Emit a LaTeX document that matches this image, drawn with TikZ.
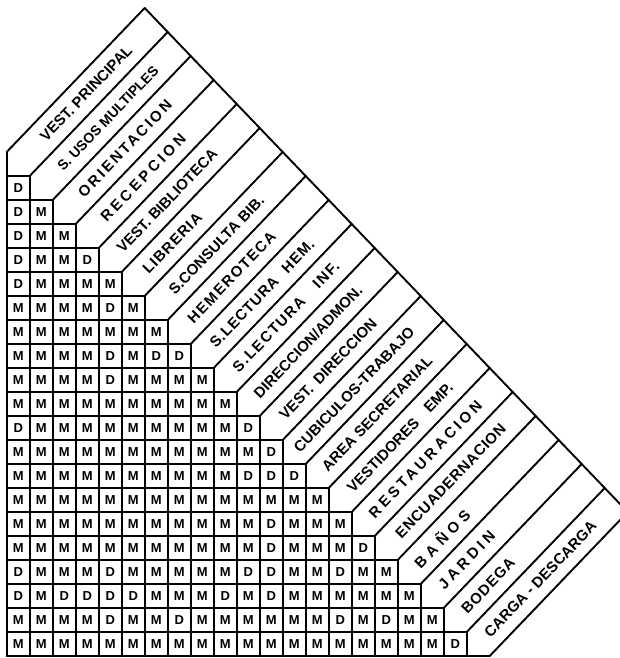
\documentclass[tikz,border=0pt]{standalone}
\usepackage{fontspec}
\setmainfont{Liberation Sans}
\newcommand\spaced[2]{{\addfontfeature{LetterSpace=#1}#2}}
\begin{document}
\begin{tikzpicture}[x=1pt,y=-1pt,line cap=round,line join=round,
  rule/.style={line width=1.9pt,black},
  cell/.style={font=\fontsize{13}{13}\selectfont\bfseries,inner sep=0pt},
  lbl/.style={font=\fontsize{15}{15}\selectfont\bfseries,inner sep=0pt,rotate=46.2}]
\useasboundingbox (0,0) rectangle (620,658);
\clip (0,0) rectangle (620,658);
\def\xo{6.7}\def\yo{176}\def\cw{23}\def\rh{24}
% left edge
\draw[rule] (\xo,{\yo-\rh}) -- (\xo,{\yo+20*\rh});
% horizontal lines (top of each row, bottom line)
\foreach \i in {1,...,21}
  \draw[rule] (\xo,{\yo+(\i-1)*\rh}) -- ({\xo+\i*\cw},{\yo+(\i-1)*\rh});
% vertical column lines
\foreach \j in {1,...,20}
  \draw[rule] ({\xo+\j*\cw},{\yo+(\j-1)*\rh}) -- ({\xo+\j*\cw},{\yo+20*\rh});
% diagonal separators
\foreach \k in {0,...,21}
  \draw[rule] ({\xo+\k*\cw},{\yo+(\k-1)*\rh}) -- ({\xo+(\k+6)*\cw},{\yo+(\k-7)*\rh});
% outer right boundary
\draw[rule] ({\xo+6*\cw},{\yo-7*\rh}) -- ({\xo+27*\cw},{\yo+14*\rh});
% cells
\foreach \row [count=\i] in {
 {D},
 {D,M},
 {D,M,M},
 {D,M,M,D},
 {D,M,M,M,M},
 {M,M,M,M,D,M},
 {M,M,M,M,M,M,M},
 {M,M,M,M,D,M,D,D},
 {M,M,M,M,D,M,M,M,M},
 {M,M,M,M,M,M,M,M,M,M},
 {D,M,M,M,M,M,M,M,M,M,D},
 {M,M,M,M,M,M,M,M,M,M,M,D},
 {M,M,M,M,M,M,M,M,M,M,D,D,D},
 {M,M,M,M,M,M,M,M,M,M,M,M,M,M},
 {M,M,M,M,M,M,M,M,M,M,M,D,M,M,M},
 {M,M,M,M,M,M,M,M,M,M,M,D,M,M,M,D},
 {D,M,M,M,D,M,M,M,M,M,D,D,M,M,D,M,M},
 {D,M,D,D,D,D,M,M,M,D,M,D,M,M,M,M,M,M},
 {M,M,M,M,D,M,M,D,M,M,M,M,M,M,D,M,D,M,M},
 {M,M,M,M,M,M,M,M,M,M,M,M,M,M,M,M,M,M,M,D}}{
  \foreach \c [count=\j] in \row {
    \node[cell] (c\i-\j) at ({\xo+(\j-0.5)*\cw},{\yo+(\i-0.5)*\rh}) {\c};
  }
}
% labels: name, strip, position along strip, text
\newcommand\lab[4]{\node[lbl] (#1) at ({\xo+(#2-0.5+#3)*\cw},{\yo+(#2-1.5-#3)*\rh}) {#4};}
\lab{l1}{1}{2.95}{VEST. PRINCIPAL}
\lab{l2}{2}{2.9}{\fontsize{14}{14}\selectfont S. USOS MULTIPLES}
\lab{l3}{3}{2.64}{\spaced{16}{ORIENTACION}}
\lab{l4}{4}{2.43}{\spaced{22}{RECEPCION}}
\lab{l5}{5}{2.47}{VEST. BIBLIOTECA}
\lab{l6}{6}{1.7}{\spaced{7}{LIBRERIA}}
\lab{l7}{7}{2.62}{S.CONSULTA\hspace{5pt}BIB.}
\lab{l8}{8}{2.28}{\spaced{10}{HEMEROTECA}}
\lab{l9}{9}{2.6}{\spaced{5}{S.LECTURA\hspace{12pt}HEM.}}
\lab{l10}{10}{2.64}{\spaced{10}{S.LECTURA\hspace{18pt}INF.}}
\lab{l11}{11}{2.6}{DIRECCION/ADMON.}
\lab{l12}{12}{2.47}{VEST.\hspace{3pt} DIRECCION}
\lab{l13}{13}{2.6}{CUBICULOS-TRABAJO}
\lab{l14}{14}{2.6}{AREA SECRETARIAL}
\lab{l15}{15}{2.6}{VESTIDORES\hspace{14pt}EMP.}
\lab{l16}{16}{2.7}{\spaced{22}{RESTAURACION}}
\lab{l17}{17}{2.8}{\spaced{4}{ENCUADERNACION}}
\lab{l18}{18}{1.4}{\spaced{32}{BAÑOS}}
\lab{l19}{19}{1.5}{\spaced{25}{JARDIN}}
\lab{l20}{20}{1.43}{\spaced{5}{BODEGA}}
\lab{l21}{21}{2.7}{CARGA - DESCARGA}
\end{tikzpicture}
\end{document}
